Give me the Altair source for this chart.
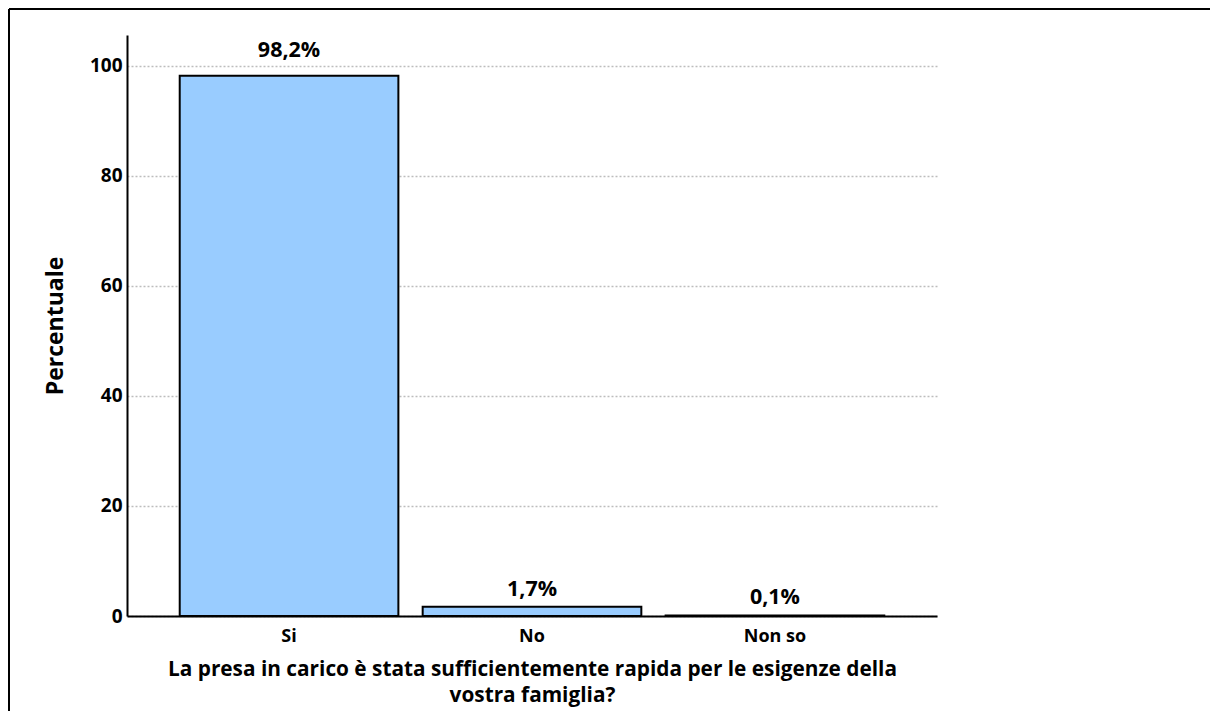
import altair as alt
import pandas as pd

categories = ["Si", "No", "Non so"]
percentages = [98.2, 1.7, 0.1]
labels = ["98,2%", "1,7%", "0,1%"]
y_ticks = [0, 20, 40, 60, 80, 100]

df = pd.DataFrame({"cat": categories, "pct": percentages, "label": labels})

FONT = "Open Sans"
PL, PT, PR, PB = 119, 27, 273, 95
W, H = 810, 581

x_enc = alt.X(
    "cat:N",
    sort=categories,
    scale=alt.Scale(paddingInner=0.1, paddingOuter=0.217),
    axis=alt.Axis(
        title=["La presa in carico è stata sufficientemente rapida per le esigenze della",
               "vostra famiglia?"],
        labelAngle=0, ticks=False, labelPadding=11, labelFontSize=18,
        labelFontWeight="bold", labelFont=FONT, labelColor="black",
        titleFont=FONT, titleFontSize=20.8, titleFontWeight="bold", titleColor="black",
        titlePadding=14, titleLineHeight=26,
        domainColor="black", domainWidth=2, grid=False,
    ),
)
y_scale = alt.Scale(domain=[0, 105.6], nice=False, zero=True)
y_enc = alt.Y(
    "pct:Q",
    scale=y_scale,
    axis=alt.Axis(
        title="Percentuale", values=y_ticks, ticks=False, labelPadding=5,
        labelFontSize=19, labelFontWeight="bold", labelFont=FONT, labelColor="black",
        titleFont=FONT, titleFontSize=23, titleFontWeight="bold", titleColor="black",
        titlePadding=22, domainColor="black", domainWidth=2,
        grid=True, gridDash=[2, 2], gridColor="#bdbdbd", gridWidth=1.5,
    ),
)

bars = alt.Chart(df).mark_bar(
    color="#99ccff", stroke="black", strokeWidth=2
).encode(x=x_enc, y=y_enc)

text_small = alt.Chart(df).transform_filter("datum.pct < 50").mark_text(
    dy=-6, baseline="bottom", font=FONT, fontSize=21.5, fontWeight="bold", color="black"
).encode(x=alt.X("cat:N", sort=categories), y=alt.Y("pct:Q", scale=y_scale), text="label:N")

text_big = alt.Chart(df).transform_filter("datum.pct >= 50").mark_text(
    dy=-14, baseline="bottom", font=FONT, fontSize=21.5, fontWeight="bold", color="black"
).encode(x=alt.X("cat:N", sort=categories), y=alt.Y("pct:Q", scale=y_scale), text="label:N")

frame_top = alt.Chart(df).mark_rule(color="black", strokeWidth=2).encode(
    x=alt.value(-PL + 1), x2=alt.value(W + PR), y=alt.value(-PT + 1)
)
frame_left = alt.Chart(df).mark_rule(color="black", strokeWidth=2).encode(
    x=alt.value(-PL + 1), y=alt.value(-PT + 1), y2=alt.value(H + PB)
)

chart = alt.layer(bars, text_small, text_big, frame_top, frame_left).properties(
    width=W, height=H,
    background="white",
    autosize=alt.AutoSizeParams(type="none"),
    padding={"left": PL, "top": PT, "right": PR, "bottom": PB},
).configure_view(stroke=None)

chart.save("out.html", embed_options={"renderer": "svg", "actions": False})
